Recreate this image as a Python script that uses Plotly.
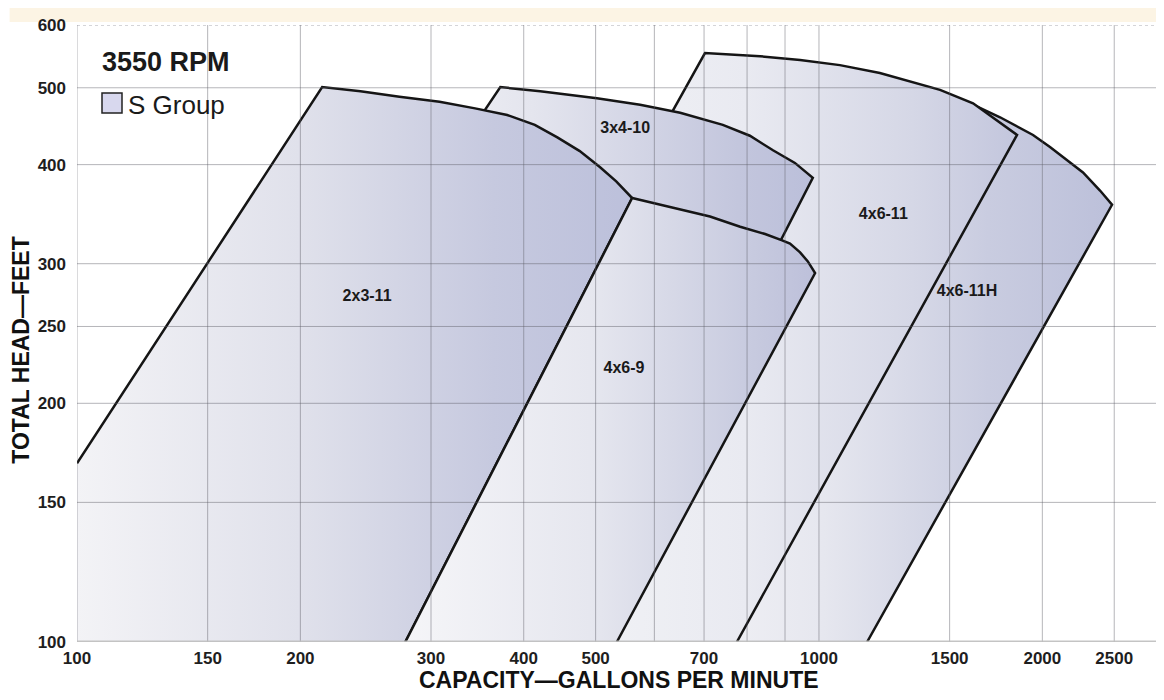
import math
import plotly.graph_objects as go

# 3550 RPM, S group coverage chart: capacity (gpm) vs total head (ft)
x_ticks = [100, 150, 200, 300, 400, 500, 700, 1000, 1500, 2000, 2500]
x_grid = [100, 150, 200, 300, 400, 500, 600, 700, 800, 900, 1000, 1500, 2000, 2500]
y_ticks = [100, 150, 200, 250, 300, 400, 500, 600]

# pump regions, listed back to front (vertices in gpm / ft)
h411_q = [691, 1208, 1456, 1613, 1754, 1943, 2048, 2159, 2269, 2392, 2483, 1161]
h411_h = [100, 511, 492, 476, 459, 436, 421, 405, 391, 371, 356, 100]

g411_q = [507, 507, 620, 702, 833, 943, 1067, 1208, 1456, 1613, 1849, 775]
g411_h = [100, 312, 449, 553, 548, 542, 534, 522, 497, 478, 436, 100]

g3410_q = [308, 313, 372, 421, 502, 574, 650, 742, 807, 867, 928, 981, 783]
g3410_h = [255, 394, 501, 495, 485, 476, 465, 449, 435, 417, 402, 385, 255]

g2311_q = [100, 214, 241, 272, 308, 344, 380, 414, 444, 476, 507, 533, 560, 277, 100]
g2311_h = [168, 501, 495, 487, 480, 471, 462, 449, 433, 416, 397, 381, 363, 100, 100]

g469_q = [277, 560, 636, 713, 783, 846, 892, 914, 943, 966, 988, 534]
g469_h = [100, 363, 353, 344, 334, 327, 321, 318, 310, 302, 292, 100]

label_q = [246, 548, 546, 1221, 1583]
label_h = [272, 444, 221, 346, 276]
label_txt = ["2x3-11", "3x4-10", "4x6-9", "4x6-11", "4x6-11H"]

FONT = "Liberation Sans, Arial, sans-serif"
EDGE = "#151515"


def region(q, h, scale, line=True):
    return go.Scatter(
        x=q, y=h, mode="lines", fill="toself",
        fillgradient=dict(type="horizontal", colorscale=scale),
        line=dict(color=EDGE, width=2.5 if line else 0),
        hoverinfo="skip", showlegend=False,
    )


fig = go.Figure()

fig.add_trace(region(h411_q, h411_h,
                     [[0, "#f1f1f5"], [0.3, "#e6e7ef"], [0.7, "#c9cce0"], [1, "#bcc0da"]]))
fig.add_trace(region(g411_q, g411_h,
                     [[0, "#f0f1f5"], [0.35, "#e9eaf1"], [0.75, "#d5d7e6"], [1, "#c3c6dd"]]))
fig.add_trace(region(g3410_q, g3410_h,
                     [[0, "#eeeff4"], [0.25, "#e4e5ee"], [0.8, "#c3c6dd"], [1, "#bbbfda"]]))

# 2x3-11: fill reaches the axes, outline only on its own edges
fig.add_trace(region(g2311_q, g2311_h,
                     [[0, "#f3f3f6"], [0.4, "#e0e1eb"], [0.75, "#c6c9df"], [1, "#bcc0db"]],
                     line=False))
fig.add_trace(go.Scatter(x=g2311_q[:-1], y=g2311_h[:-1], mode="lines",
                         line=dict(color=EDGE, width=2.5),
                         hoverinfo="skip", showlegend=False))

fig.add_trace(region(g469_q, g469_h,
                     [[0, "#f5f5f8"], [0.45, "#e6e7ef"], [0.85, "#c7cadf"], [1, "#bdc0da"]]))

fig.add_trace(go.Scatter(
    x=label_q, y=label_h, mode="text", text=label_txt,
    textfont=dict(family=FONT, size=16, color="#1a1a1a", weight="bold"),
    hoverinfo="skip", showlegend=False,
))

shapes = []
for v in x_grid:
    shapes.append(dict(type="line", xref="x", yref="paper", x0=v, x1=v, y0=0, y1=1,
                       layer="above", line=dict(color="rgba(90,90,100,0.45)", width=1)))
for v in y_ticks:
    if v == 100:
        ln = dict(color="rgba(190,190,190,0.9)", width=3)
    elif v == 600:
        ln = dict(color="rgba(90,90,100,0.5)", width=1, dash="dot")
    else:
        ln = dict(color="rgba(90,90,100,0.45)", width=1)
    shapes.append(dict(type="line", xref="paper", yref="y", x0=0, x1=1, y0=v, y1=v,
                       layer="above", line=ln))

# cream strip above the chart and the legend swatch
shapes.append(dict(type="rect", xref="paper", yref="paper", x0=-0.062, x1=1,
                   y0=1.005, y1=1.028, fillcolor="#fcf4e4", line=dict(width=0),
                   layer="below"))
shapes.append(dict(type="rect", xref="paper", yref="paper", x0=0.023, x1=0.0414,
                   y0=0.8574, y1=0.8898, fillcolor="#d8d8ee",
                   line=dict(color="#222", width=1.5), layer="above"))

annotations = [
    dict(text="<b>3550 RPM</b>", xref="paper", yref="paper", x=0.021, y=0.940,
         xanchor="left", yanchor="middle", showarrow=False,
         font=dict(family=FONT, size=27, color="#1a1a1a")),
    dict(text="S Group", xref="paper", yref="paper", x=0.0455, y=0.871,
         xanchor="left", yanchor="middle", showarrow=False,
         font=dict(family=FONT, size=26, color="#1a1a1a")),
    dict(text="<b>CAPACITY\u2014GALLONS PER MINUTE</b>", xref="paper", yref="paper",
         x=0.4986, y=-0.0616, xanchor="center", yanchor="middle", showarrow=False,
         font=dict(family=FONT, size=23, color="#111")),
    dict(text="<b>TOTAL HEAD\u2014FEET</b>", xref="paper", yref="paper",
         x=-0.051, y=0.473, xanchor="center", yanchor="middle", showarrow=False,
         textangle=-90, font=dict(family=FONT, size=23, color="#111")),
]

# the page body adds an 8px offset, so margins are trimmed to match
fig.update_layout(
    width=1164, height=700,
    margin=dict(l=69, r=8, t=17, b=66),
    plot_bgcolor="white", paper_bgcolor="white",
    shapes=shapes, annotations=annotations,
    showlegend=False,
)
fig.update_xaxes(
    type="log", range=[2, 3.465],
    tickvals=x_ticks, ticktext=[str(v) for v in x_ticks],
    showgrid=False, zeroline=False, showline=False, ticks="",
    ticklabelstandoff=4,
    tickfont=dict(family=FONT, size=17, color="#1e1e1e", weight="bold"),
)
fig.update_yaxes(
    type="log", range=[2, math.log10(600)],
    tickvals=y_ticks, ticktext=[str(v) for v in y_ticks],
    showgrid=False, zeroline=False, showline=False, ticks="",
    ticklabelstandoff=10,
    tickfont=dict(family=FONT, size=17, color="#1e1e1e", weight="bold"),
)

fig.write_html("out.html")
